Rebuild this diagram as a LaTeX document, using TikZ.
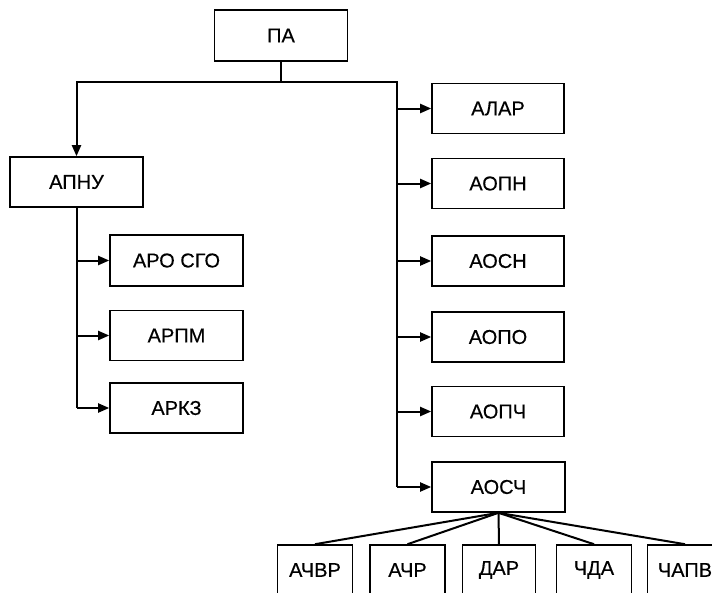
\documentclass[tikz,border=0pt]{standalone}
\usepackage{fontspec}
\setmainfont{Liberation Sans}
\usetikzlibrary{arrows.meta}
\begin{document}
\begin{tikzpicture}[x=1pt,y=-1pt,
  box/.style={draw,line width=1.6pt,minimum height=50pt,inner sep=0pt,font=\fontsize{20}{22}\selectfont\addfontfeature{FakeBold=0.4}},
  wbox/.style={box,minimum width=133pt},
  sbox/.style={box,minimum width=75pt},
  conn/.style={line width=2pt},
  arr/.style={conn,-{Triangle[length=11pt,width=9pt]}}]
\useasboundingbox (0,0) rectangle (712,592);
\clip (0,0) rectangle (712,592);
\node[wbox,minimum height=51pt] (PA) at (281,35.5) {ПА};
\node[wbox] (APNU) at (76.5,182) {АПНУ};
\node[wbox,minimum height=51pt] (ARO) at (176.5,260.5) {АРО СГО};
\node[wbox] (ARPM) at (176.5,335.5) {АРПМ};
\node[wbox] (ARKZ) at (176.5,408) {АРКЗ};
\node[wbox,minimum width=132pt] (ALAR) at (498,108.5) {АЛАР};
\node[wbox,minimum width=132pt] (AOPN) at (498,183.5) {АОПН};
\node[wbox,minimum width=132pt] (AOSN) at (498,261) {АОСН};
\node[wbox,minimum width=132pt] (AOPO) at (498,337) {АОПО};
\node[wbox,minimum width=132pt] (AOPCH) at (498,411.5) {АОПЧ};
\node[wbox,minimum width=133pt] (AOSCH) at (498.5,487) {АОСЧ};
\node[sbox] (B1) at (315,570) {АЧВР};
\node[sbox] (B2) at (407.5,570) {АЧР};
\node[sbox,minimum width=73pt] (B3) at (499,570) {ДАР};
\node[sbox] (B4) at (594,570) {ЧДА};
\node[sbox] (B5) at (685,570) {ЧАПВ};
\coordinate (bus) at (281,82);
\coordinate (busL) at (76.5,82);
\coordinate (busR) at (397,82);
\coordinate (leftEnd) at (76.5,408);
\coordinate (rightEnd) at (397,487);
\draw[conn] (PA.south) -- (bus);
\draw[conn,line cap=rect] (busL) -- (busR);
\draw[arr] (busL) -- (APNU.north);
\draw[conn] (APNU.south) -- (leftEnd);
\foreach \n in {ARO,ARPM,ARKZ}{\draw[arr] (76.5,0 |- \n.west) -- (\n.west);}
\draw[conn] (busR) -- (rightEnd);
\foreach \n in {ALAR,AOPN,AOSN,AOPO,AOPCH,AOSCH}{\draw[arr] (397,0 |- \n.west) -- (\n.west);}
\foreach \n in {B1,B2,B3,B4,B5}{\draw[conn] (AOSCH.south) -- (\n.north);}
\end{tikzpicture}
\end{document}
